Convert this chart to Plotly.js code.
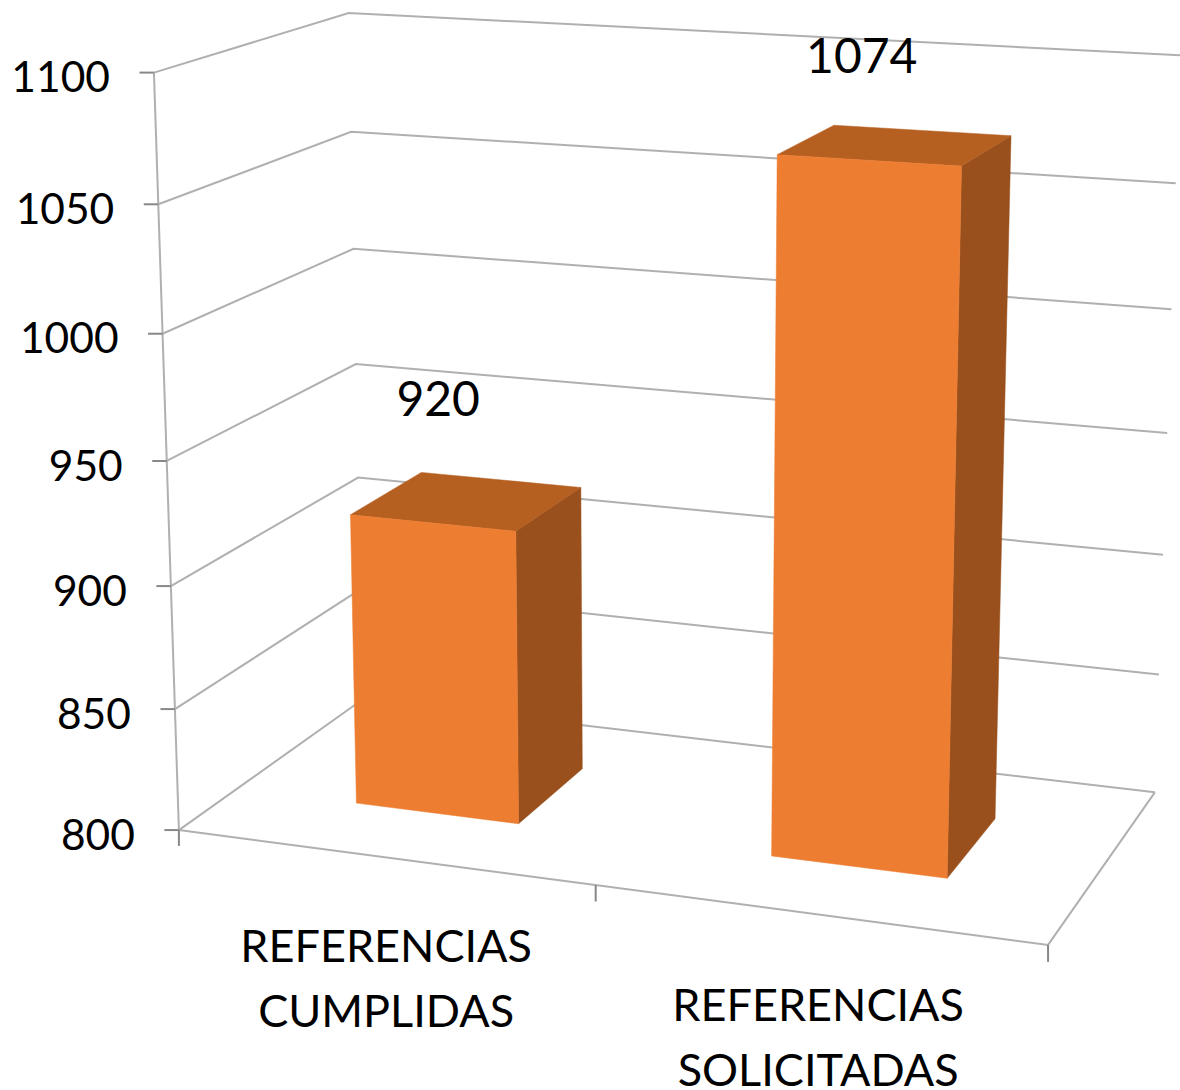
<!DOCTYPE html>
<html><head><meta charset="utf-8">
<script src="https://cdn.plot.ly/plotly-3.0.1.min.js"></script>
<style>html,body{margin:0;padding:0;background:#fff}#c{width:1180px;height:1090px}</style>
</head><body><div id="c"></div>
<script>
// ---- data ----
const categories = ['REFERENCIAS\nCUMPLIDAS', 'REFERENCIAS\nSOLICITADAS'];
const values = [920, 1074];
const valueLabels = ['920', '1074'];
const tickValues = [800, 850, 900, 950, 1000, 1050, 1100];
const tickLabels = ['800', '850', '900', '950', '1000', '1050', '1100'];

// ---- 3-D scale: value axis + category/depth positions in unit box ----
const vMin = 800, vMax = 1100;
const barU = [[0.15, 0.35], [0.65, 0.85]];
const barV = [0.3, 0.7];
const W = v => (v - vMin) / (vMax - vMin);

// camera calibration: box corners (u,v,w) -> page position, solved as a projective matrix
const calib = [
  [0,0,0,180,829],[0,0,1,152,73],[1,0,0,1048,946],[0,1,0,360,701],[1,1,0,1155,791],
  [0,1,1,349,13],[1,1,1,1180,55],[0,0,5/6,158,204],[0,1,5/6,353,132],[0,1,4/6,354,248],
  [0,0,1/6,176,709],[1,1,5/6,1175,184],[1,1,3/6,1168,433]
];
function solve(A, b) {
  const n = b.length, M = A.map((r, i) => [...r, b[i]]);
  for (let c = 0; c < n; c++) {
    let p = c; for (let r = c + 1; r < n; r++) if (Math.abs(M[r][c]) > Math.abs(M[p][c])) p = r;
    [M[c], M[p]] = [M[p], M[c]];
    for (let r = 0; r < n; r++) if (r !== c) {
      const f = M[r][c] / M[c][c];
      for (let k = c; k <= n; k++) M[r][k] -= f * M[c][k];
    }
  }
  return M.map((r, i) => r[n] / r[i]);
}
const rows = [], rhs = [];
calib.forEach(([u, v, w, x, y]) => {
  x /= 1000; y /= 1000;
  rows.push([u, v, w, 1, 0, 0, 0, 0, -x*u, -x*v, -x*w]); rhs.push(x);
  rows.push([0, 0, 0, 0, u, v, w, 1, -y*u, -y*v, -y*w]); rhs.push(y);
});
const ATA = Array.from({length: 11}, (_, i) => Array.from({length: 11}, (_, j) => rows.reduce((s, r) => s + r[i]*r[j], 0)));
const ATb = Array.from({length: 11}, (_, i) => rows.reduce((s, r, k) => s + r[i]*rhs[k], 0));
const P = solve(ATA, ATb);
function proj(u, v, w) {
  const d = P[8]*u + P[9]*v + P[10]*w + 1;
  return [1000*(P[0]*u + P[1]*v + P[2]*w + P[3]) / d, 1000*(P[4]*u + P[5]*v + P[6]*w + P[7]) / d];
}

// ---- styles ----
const FONT = 'Lato, Carlito, sans-serif';
const wallColor = '#b0b0b0', tickColor = '#888888';
const frontColor = '#ED7D31', topColor = '#B55F21', sideColor = '#99501C';
const tickFont = 42.5, catFont = 45, valFont = 48, catLine = 65;

const traces = [];
function line(pts, color, width) {
  traces.push({type: 'scatter', mode: 'lines', x: pts.map(p => p[0]), y: pts.map(p => p[1]),
    line: {color, width}, hoverinfo: 'skip', showlegend: false});
}
function face(pts, color) {
  const c = [...pts, pts[0]];
  traces.push({type: 'scatter', mode: 'lines', x: c.map(p => p[0]), y: c.map(p => p[1]),
    fill: 'toself', fillcolor: color, line: {color, width: 0.5}, hoverinfo: 'skip', showlegend: false});
}
function text(x, y, t, size, pos) {
  traces.push({type: 'scatter', mode: 'text', x: [x], y: [y], text: [t], textposition: pos,
    textfont: {family: FONT, size, color: '#000'}, hoverinfo: 'skip', showlegend: false});
}

// walls
tickValues.forEach(t => {
  const w = W(t);
  line([proj(0,0,w), proj(0,1,w), proj(1,1,w)], wallColor, 2);
});
line([proj(0,0,0), proj(0,0,1)], wallColor, 2);
line([proj(0,0,0), proj(1,0,0), proj(1,1,0)], wallColor, 2);

// axis tick marks
tickValues.forEach(t => {
  const p = proj(0,0,W(t));
  line([[p[0]-14.5, p[1]], p], tickColor, 2);
});
[0, 0.5, 1].forEach(u => {
  const p = proj(u,0,0), q = proj(u,0,-0.022);
  line([p, [p[0], q[1]]], tickColor, 2);
});

// bars
values.forEach((val, i) => {
  const [u0, u1] = barU[i], [v0, v1] = barV, w = W(val);
  face([proj(u1,v0,0), proj(u1,v1,0), proj(u1,v1,w), proj(u1,v0,w)], sideColor);
  face([proj(u0,v0,w), proj(u1,v0,w), proj(u1,v1,w), proj(u0,v1,w)], topColor);
  face([proj(u0,v0,0), proj(u1,v0,0), proj(u1,v0,w), proj(u0,v0,w)], frontColor);
});

// value-axis labels
tickValues.forEach((t, i) => {
  const p = proj(0,0,W(t));
  text(p[0]-44, p[1]+9, tickLabels[i], tickFont, 'middle left');
});
// data labels
const valueLabelShift = [[-29, -97], [-34, -84]];
values.forEach((val, i) => {
  const p = proj((barU[i][0]+barU[i][1])/2, (barV[0]+barV[1])/2, W(val));
  text(p[0]+valueLabelShift[i][0], p[1]+valueLabelShift[i][1], valueLabels[i], valFont, 'middle center');
});
// category labels
const catCentre = [0.25, 0.75];
const catShift = [[3, 94], [1, 95]];
categories.forEach((c, i) => {
  const p = proj(catCentre[i], 0, 0);
  c.split('\n').forEach((s, k) => {
    text(p[0]+catShift[i][0], p[1]+catShift[i][1]+k*catLine, s, catFont, 'middle center');
  });
});

Plotly.newPlot('c', traces, {
  width: 1180, height: 1090, margin: {l:0, r:0, t:0, b:0},
  paper_bgcolor: '#fff', plot_bgcolor: '#fff', showlegend: false,
  xaxis: {range: [0,1180], visible: false, fixedrange: true},
  yaxis: {range: [1090,0], visible: false, fixedrange: true}
}, {displayModeBar: false, staticPlot: true});
</script></body></html>
